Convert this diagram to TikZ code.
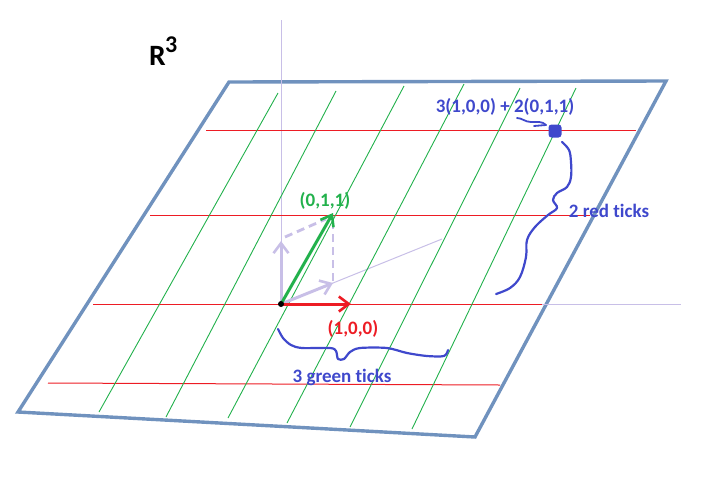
\documentclass[tikz,border=0pt]{standalone}
\usepackage{fontspec}
\setmainfont[Ligatures=NoCommon]{Carlito}
\usetikzlibrary{arrows.meta}
\definecolor{frame}{HTML}{7092BE}
\definecolor{pred}{HTML}{ED1C24}
\definecolor{pgreen}{HTML}{22B14C}
\definecolor{pblue}{HTML}{3F48CC}
\definecolor{lav}{HTML}{C8BFE7}
\begin{document}
\begin{tikzpicture}[x=1pt,y=-1pt,
  framestyle/.style={draw=frame,line width=3.4pt,line join=miter},
  redline/.style={draw=pred,line width=1pt},
  greenline/.style={draw=pgreen,line width=0.9pt},
  axisline/.style={draw=lav,line width=1pt},
  vecstyle/.style={line width=3pt,-{Straight Barb[length=10pt,width=15pt,line width=2.6pt]}},
  lavdash/.style={draw=lav,line width=2.8pt,dash pattern=on 8pt off 5pt},
  ink/.style={draw=pblue,line width=2.2pt,line cap=round,line join=round},
  lbl/.style={font=\fontsize{19}{22}\selectfont\bfseries,inner sep=0pt,anchor=base}
]
\useasboundingbox (0,0) rectangle (707,499);

% parallelogram
\draw[framestyle] (229,82) -- (666,81) -- (475,437) -- (18,412) -- cycle;

% origin and vector tips
\coordinate (O) at (281,304);
\coordinate (ex) at (351,304);
\coordinate (ey) at (333,283);
\coordinate (ez) at (281,241);
\coordinate (v) at (333,213);
\coordinate (P) at (555,131);

% lavender axes
\draw[axisline] (281,20) -- (O);
\draw[axisline] (O) -- (681,304);
\draw[axisline] (O) -- (442,239);

% red horizontal grid lines
\draw[redline] (206,130) -- (636,130);
\draw[redline] (150,215) -- (590,215);
\draw[redline] (93,304) -- (542,304);
\draw[redline] (48,383) -- (500,385);

% green slanted grid lines
\draw[greenline] (278,93) -- (99,412);
\draw[greenline] (336,91) -- (166,417);
\draw[greenline] (404,86) -- (228,418);
\draw[greenline] (464,84) -- (287,423);
\draw[greenline] (520,88) -- (350,427);
\draw[greenline] (576,88) -- (412,429);

% lavender vectors and dashed completion
\draw[lavdash] (285,237) -- (326,219);
\draw[lavdash] (333,281) -- (333,219);
\draw[vecstyle,lav] (O) -- (ey);
\draw[vecstyle,lav] (O) -- (ez);

% green and red vectors
\draw[vecstyle,pgreen] (O) -- (v);
\draw[vecstyle,pred] (O) -- (ex);
\fill[black] (O) circle (3pt);

% labels
\node[lbl,text=pgreen] (l011) at (325,206) {(0,1,1)};
\node[lbl,text=pred] (l100) at (353,334) {(1,0,0)};
\node[lbl,text=pblue] (lsum) at (505,112) {3(1,0,0) + 2(0,1,1)};
\node[lbl,text=pblue] (lred) at (609,217) {2 red ticks};
\node[lbl,text=pblue] (lgreen) at (342,382) {3 green ticks};
\node[inner sep=0pt,anchor=base west,font=\fontsize{29.5}{32}\selectfont\bfseries] (R) at (149,65) {R};
\node[inner sep=0pt,anchor=base west,font=\fontsize{24}{26}\selectfont\bfseries] (R3) at (165,52) {3};

% blue point
\fill[pblue,rounded corners=3pt] (548.5,124.5) rectangle (561.5,137.5);
\node[inner sep=0pt,minimum size=13pt] (pt) at (P) {};

% squiggle arrow to point
\draw[ink,line width=1.8pt] (517,118) .. controls (522,118) and (525,122) .. (531,122)
  .. controls (537,122) and (542,121) .. (546,125);
\draw[ink,line width=1.8pt] (534,126) -- (546,125);

% wiggly curve from point down
\draw[ink] plot[smooth,tension=0.6] coordinates {(562,142) (569,150) (571,162) (571,177) (567,187) (557,193) (553,200) (557,208) (548,215) (535,227) (527,240) (526,257) (520,277) (510,288) (496,294)};

% brace under the x axis
\draw[ink] plot[smooth,tension=0.5] coordinates {(278,329) (283,338) (291,345) (302,348) (330,348) (336,351) (338,359) (344,359) (350,352) (360,348) (387,348) (407,353) (427,356) (444,356) (448,350)};
\end{tikzpicture}
\end{document}
